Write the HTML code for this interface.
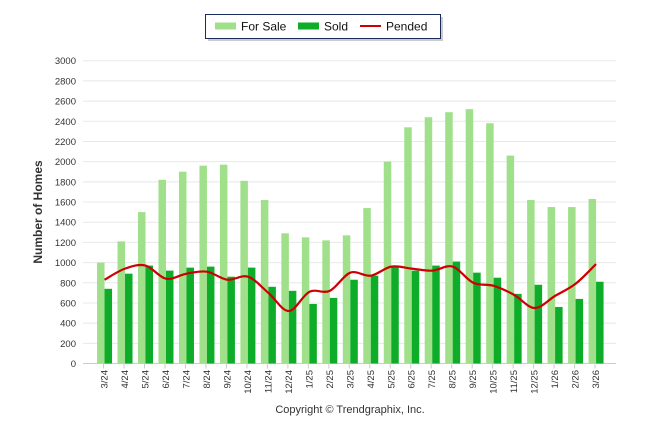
<!DOCTYPE html>
<html><head><meta charset="utf-8"><style>
body{margin:0;background:#fff;font-family:"Liberation Sans",sans-serif;}
#c{position:relative;width:646px;height:434px;}
</style></head><body>
<div id="c">
<svg id="s" width="646" height="434" xmlns="http://www.w3.org/2000/svg"></svg>
</div>
<script>
const categories=["3/24","4/24","5/24","6/24","7/24","8/24","9/24","10/24","11/24","12/24","1/25","2/25","3/25","4/25","5/25","6/25","7/25","8/25","9/25","10/25","11/25","12/25","1/26","2/26","3/26"];
const forSale=[1000,1210,1500,1820,1900,1960,1970,1810,1620,1290,1250,1220,1270,1540,2000,2340,2440,2490,2520,2380,2060,1620,1550,1550,1630];
const sold=[740,890,970,920,950,960,860,950,760,720,590,650,830,870,960,920,970,1010,900,850,690,780,560,640,810];
const pended=[830,940,970,840,890,910,830,860,700,520,710,720,900,870,960,940,920,960,800,770,680,550,670,790,985];
const yTicks=[0,200,400,600,800,1000,1200,1400,1600,1800,2000,2200,2400,2600,2800,3000];

const NS="http://www.w3.org/2000/svg";
const svg=document.getElementById('s');
const X0=94.3,BW=20.48,Y0=363.5,Y1=60.7,YMAX=3000;
const y=v=>Y0-(v/YMAX)*(Y0-Y1);
const xc=i=>X0+BW*(i+0.5);
function mk(t,a,p){const e=document.createElementNS(NS,t);for(const k in a)e.setAttribute(k,a[k]);(p||svg).appendChild(e);return e;}

yTicks.forEach(v=>{
  const g=mk('line',{x1:83,x2:616,y1:y(v),y2:y(v),stroke:v===0?'#ccc':'#e8e8e8','stroke-width':1});
  
  
  const t=mk('text',{x:76,y:y(v)+3.5,'text-anchor':'end','font-size':'9.5',fill:'#333'});
  t.textContent=v;
  
  
});
categories.forEach((c,i)=>{
  const tk=mk('line',{x1:xc(i)-1,x2:xc(i)-1,y1:Y0,y2:Y0+5,stroke:'#ccc'});
  
  
  const b1=mk('rect',{x:xc(i)-7.5,y:y(forSale[i]),width:7.5,height:Y0-y(forSale[i]),fill:'#a0e08a'});
  
  
  const b2=mk('rect',{x:xc(i),y:y(sold[i]),width:7.5,height:Y0-y(sold[i]),fill:'#0ead29'});
  
  
  const t=mk('text',{transform:`translate(${xc(i)+3},370) rotate(-90)`,'text-anchor':'end','font-size':'9.5',fill:'#333'});
  t.textContent=c;
  
  
});
// smooth line (catmull-rom)
const pts=pended.map((v,i)=>[xc(i),y(v)]);
let d=`M${pts[0][0]},${pts[0][1]}`;
for(let i=0;i<pts.length-1;i++){
  const p0=pts[Math.max(0,i-1)],p1=pts[i],p2=pts[i+1],p3=pts[Math.min(pts.length-1,i+2)];
  const k=6;
  d+=` C${p1[0]+(p2[0]-p0[0])/k},${p1[1]+(p2[1]-p0[1])/k} ${p2[0]-(p3[0]-p1[0])/k},${p2[1]-(p3[1]-p1[1])/k} ${p2[0]},${p2[1]}`;
}
const ln=mk('path',{d:d,fill:'none',stroke:'#cc0000','stroke-width':2.2});



const yt=mk('text',{transform:'translate(42,212) rotate(-90)','text-anchor':'middle','font-size':'12','font-weight':'bold',fill:'#333'});
yt.textContent='Number of Homes';


const cp=mk('text',{x:350,y:413,'text-anchor':'middle','font-size':'11',fill:'#333'});
cp.textContent='Copyright © Trendgraphix, Inc.';



// legend
const lg=mk('g',{});


mk('rect',{x:208,y:17,width:235,height:24,fill:'#999',opacity:0.5},lg);
mk('rect',{x:205.5,y:14.5,width:235,height:24,fill:'#fff',stroke:'#1a2a5a','stroke-width':1},lg);
const items=[['For Sale',215,'#a0e08a','rect'],['Sold',298,'#0ead29','rect'],['Pended',360,'#cc0000','line']];
items.forEach(([n,x,c,t])=>{
  const e=mk('g',{},lg);
  
  
  if(t==='rect')mk('rect',{x:x,y:22.5,width:21,height:7,fill:c},e);
  else mk('line',{x1:x,x2:x+21,y1:26,y2:26,stroke:c,'stroke-width':2},e);
  const tx=mk('text',{x:x+26,y:30.5,'font-size':'12',fill:'#111'},e);
  tx.textContent=n;
});
</script>
</body></html>
